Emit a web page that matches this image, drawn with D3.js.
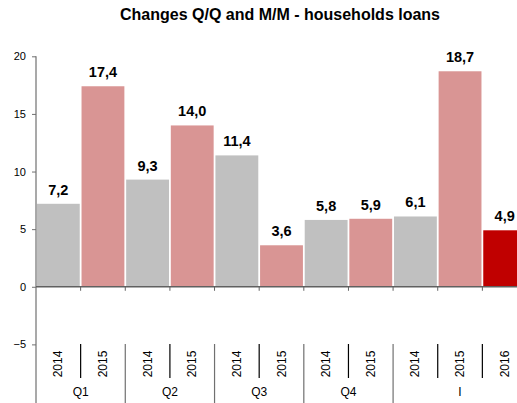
<!DOCTYPE html>
<html>
<head>
<meta charset="utf-8">
<script src="https://d3js.org/d3.v7.min.js"></script>
<style>
  body { margin: 0; background: #fff; }
  svg { font-family: "Liberation Sans", Arial, sans-serif; }
</style>
</head>
<body>
<div id="chart"></div>
<script>
// chart data
var years = ["2014", "2015", "2014", "2015", "2014", "2015", "2014", "2015", "2014", "2015", "2016"];
var values = [7.2, 17.4, 9.3, 14.0, 11.4, 3.6, 5.8, 5.9, 6.1, 18.7, 4.9];
var groups = ["Q1", "Q2", "Q3", "Q4", "I"];
var groupSizes = [2, 2, 2, 2, 3];
var yTicks = [-5, 0, 5, 10, 15, 20];

var colorByYear = { "2014": "#c0c0c0", "2015": "#d99594", "2016": "#c00000" };

var width = 517, height = 403;
var svg = d3.select("#chart").append("svg")
    .attr("width", width)
    .attr("height", height);

var left = 36, right = 527;
var x = d3.scaleBand()
    .domain(d3.range(values.length))
    .range([left, right])
    .paddingInner(0.04)
    .paddingOuter(0.02);

var y = d3.scaleLinear()
    .domain([-10, 20])
    .range([402, 56.3]);

// title
svg.append("text")
    .attr("x", 280)
    .attr("y", 20)
    .attr("text-anchor", "middle")
    .attr("font-weight", "bold")
    .attr("font-size", "16px")
    .text("Changes Q/Q and M/M - households loans");

// bars
svg.selectAll("rect.bar")
    .data(values)
    .enter().append("rect")
    .attr("class", "bar")
    .attr("x", function(d, i) { return x(i); })
    .attr("y", function(d) { return y(d); })
    .attr("width", x.bandwidth())
    .attr("height", function(d) { return y(0) - y(d); })
    .attr("fill", function(d, i) { return colorByYear[years[i]]; });

// value labels
svg.selectAll("text.val")
    .data(values)
    .enter().append("text")
    .attr("class", "val")
    .attr("x", function(d, i) { return x(i) + x.bandwidth() / 2; })
    .attr("y", function(d) { return y(d) - 9; })
    .attr("text-anchor", "middle")
    .attr("font-weight", "bold")
    .attr("font-size", "14.5px")
    .text(function(d) { return d3.format(".1f")(d).replace(".", ","); });

// y axis
var yAxis = svg.append("g")
    .attr("transform", "translate(" + left + ",0)")
    .call(d3.axisLeft(y).tickValues(yTicks).tickSize(4).tickPadding(6).tickFormat(d3.format("d")));
yAxis.select(".domain").remove();
yAxis.selectAll("line").attr("stroke", "#707070");
yAxis.selectAll("text").attr("font-size", "11px").attr("font-family", "Liberation Sans, Arial, sans-serif").attr("fill", "#000");
svg.append("line")
    .attr("x1", left).attr("x2", left)
    .attr("y1", y(20)).attr("y2", height)
    .attr("stroke", "#707070").attr("stroke-width", 1.2);

// zero line + small ticks
svg.append("line")
    .attr("x1", left).attr("x2", right)
    .attr("y1", y(0)).attr("y2", y(0))
    .attr("stroke", "#606060").attr("stroke-width", 1.5);
var bounds = d3.range(values.length + 1).map(function(i) { return left + i * (right - left) / values.length; });
svg.selectAll("line.zt")
    .data(bounds.slice(1))
    .enter().append("line")
    .attr("class", "zt")
    .attr("x1", function(d) { return d; }).attr("x2", function(d) { return d; })
    .attr("y1", y(0)).attr("y2", y(0) + 4)
    .attr("stroke", "#606060");

// year labels
svg.selectAll("text.yr")
    .data(years)
    .enter().append("text")
    .attr("class", "yr")
    .attr("transform", function(d, i) {
      return "translate(" + (x(i) + x.bandwidth() / 2 + 4) + ",364) rotate(-90)";
    })
    .attr("text-anchor", "middle")
    .attr("font-size", "12px")
    .text(function(d) { return d; });

// separators in label area
var groupStarts = [0];
groupSizes.forEach(function(s, i) { groupStarts.push(groupStarts[i] + s); });
bounds.slice(1, values.length).forEach(function(b, i) {
  var isGroup = groupStarts.indexOf(i + 1) >= 0;
  svg.append("line")
      .attr("x1", b).attr("x2", b)
      .attr("y1", 344).attr("y2", isGroup ? height : 378)
      .attr("stroke", isGroup ? "#707070" : "#000")
      .attr("stroke-width", 1.2);
});

// group labels
svg.selectAll("text.grp")
    .data(groups)
    .enter().append("text")
    .attr("class", "grp")
    .attr("x", function(d, i) { return (bounds[groupStarts[i]] + bounds[groupStarts[i + 1]]) / 2; })
    .attr("y", 396)
    .attr("text-anchor", "middle")
    .attr("font-size", "12px")
    .text(function(d) { return d; });
</script>
</body>
</html>
